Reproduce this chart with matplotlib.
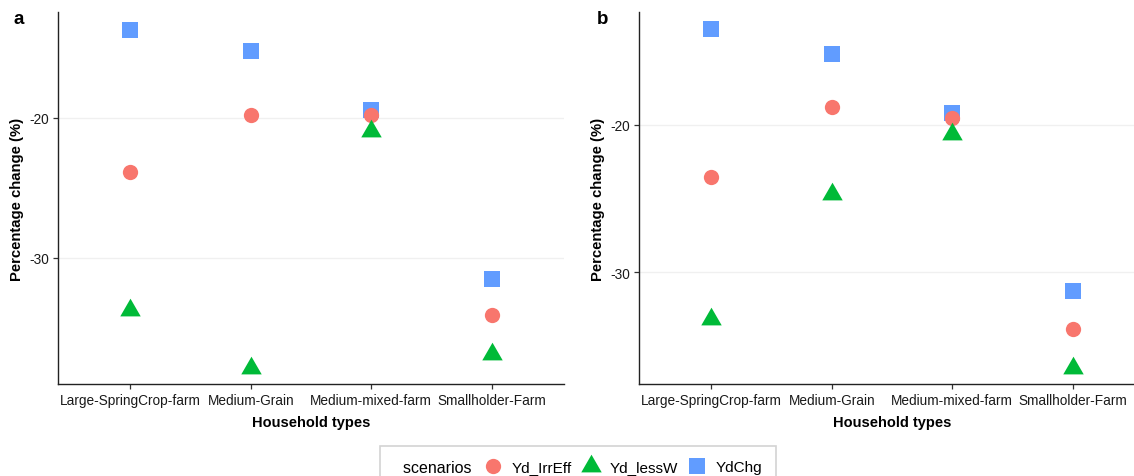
import matplotlib
matplotlib.use("Agg")
import matplotlib.pyplot as plt
from matplotlib.lines import Line2D
from matplotlib.offsetbox import HPacker

plt.rcParams['font.family'] = ['Liberation Sans', 'DejaVu Sans']

categories = ["Large-SpringCrop-farm", "Medium-Grain", "Medium-mixed-farm", "Smallholder-Farm"]
scenarios = ["Yd_IrrEff", "Yd_lessW", "YdChg"]

# panel a
a_irreff = [-23.9, -19.8, -19.8, -34.1]
a_lessw = [-33.73, -37.88, -20.96, -36.84]
a_ydchg = [-13.7, -15.25, -19.45, -31.5]
# panel b
b_irreff = [-23.55, -18.8, -19.5, -33.85]
b_lessw = [-33.16, -24.68, -20.62, -36.5]
b_ydchg = [-13.5, -15.2, -19.2, -31.25]

yticks = [-20, -30]

colors = {"Yd_IrrEff": "#F8766D", "Yd_lessW": "#00BA38", "YdChg": "#619CFF"}
# ggplot-like filled triangle centred on its centroid
tri = [(0, 1.555), (1.3468, -0.7776), (-1.3468, -0.7776), (0, 1.555)]
markers = {"Yd_IrrEff": ("o", 11), "Yd_lessW": (tri, 17), "YdChg": ("s", 11)}
zorders = {"YdChg": 3, "Yd_IrrEff": 4, "Yd_lessW": 5}

W, H = 1134, 477
fig = plt.figure(figsize=(W / 100, H / 100), dpi=100)

def px_axes(left, top, right, bottom):
    return [left / W, 1 - bottom / H, (right - left) / W, (bottom - top) / H]

panels = [
    ("a", px_axes(58, 13, 564, 385), (a_irreff, a_lessw, a_ydchg), (-39.0, -12.45), 14),
    ("b", px_axes(639, 13, 1145, 385), (b_irreff, b_lessw, b_ydchg), (-37.6, -12.33), 597),
]

for letter, rect, series, ylim, letter_x in panels:
    ax = fig.add_axes(rect)
    x = list(range(len(categories)))
    for name, vals in zip(scenarios, series):
        m, ms = markers[name]
        ax.plot(x, vals, linestyle="none", marker=m, markersize=ms,
                color=colors[name], markeredgewidth=0, zorder=zorders[name])
    ax.set_xlim(-0.6, len(categories) - 1 + 0.6)
    ax.set_ylim(*ylim)
    ax.set_xticks(x)
    ax.set_xticklabels(categories, fontsize=9.8, color="#1a1a1a")
    ax.set_yticks(yticks)
    ax.set_yticklabels([str(t) for t in yticks], fontsize=9.8, color="#1a1a1a")
    ax.grid(axis="y", color="#f0f0f0", linewidth=1.0, zorder=0)
    ax.set_axisbelow(True)
    for s in ["top", "right"]:
        ax.spines[s].set_visible(False)
    for s in ["left", "bottom"]:
        ax.spines[s].set_linewidth(1.0)
        ax.spines[s].set_color("#222222")
    ax.tick_params(axis="both", length=3.5, width=0.9, color="#333333", pad=3)
    ax.set_xlabel("Household types", fontsize=10.5, fontweight="bold", labelpad=6)
    ax.set_ylabel("Percentage change (%)", fontsize=10.7, fontweight="bold", labelpad=4)
    fig.text(letter_x / W, 1 - 19 / H, letter, fontsize=13.5, fontweight="bold",
             ha="left", va="center")

handles = []
for name in scenarios:
    m, ms = markers[name]
    handles.append(Line2D([], [], linestyle="none", marker=m, markersize=ms,
                          color=colors[name], markeredgewidth=0))

leg = fig.legend(handles, scenarios, loc="upper center", bbox_to_anchor=(578 / W, 1 - 447 / H),
                 ncol=3, frameon=True, fancybox=False, fontsize=11,
                 title="  scenarios", title_fontsize=11.5,
                 handlelength=1.0, handletextpad=0.71, columnspacing=0.75,
                 labelspacing=0.94, borderpad=0.9, borderaxespad=0,
                 edgecolor="#c8c8c8")
leg.get_frame().set_linewidth(1.2)
# put the legend title to the left of the keys (ggplot style)
leg._legend_box.__class__ = HPacker

fig.savefig("out.png", dpi=100)
